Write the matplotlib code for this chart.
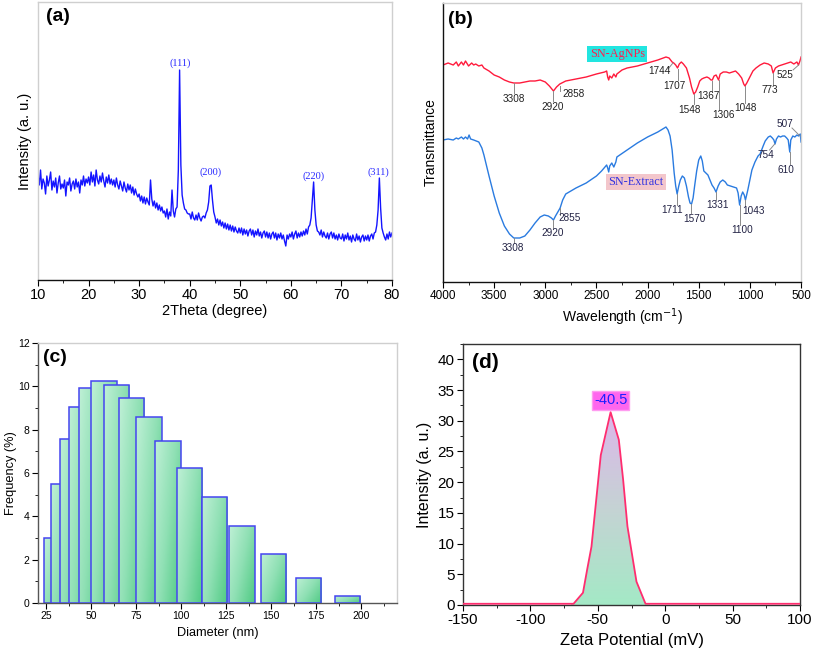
import numpy as np
import matplotlib
matplotlib.use("Agg")
import matplotlib.pyplot as plt
from matplotlib.colors import LinearSegmentedColormap
from matplotlib.ticker import MultipleLocator, NullLocator

plt.rcParams["font.family"] = "Liberation Sans"
plt.rcParams["axes.unicode_minus"] = False

# ---- (a) XRD pattern (step 0.25 deg) ----
xrd_2theta = np.arange(10, 80.01, 0.25)
xrd_intensity = [
    105, 95, 110, 91, 101, 97, 86, 104, 94, 100, 108, 90, 99, 93, 102, 87, 97, 104, 91, 96,
    92, 100, 84, 98, 95, 102, 89, 96, 99, 91, 101, 93, 98, 87, 100, 95, 104, 94, 101, 97,
    103, 95, 108, 98, 105, 94, 110, 100, 96, 104, 98, 107, 99, 93, 103, 97, 105, 96, 101, 95,
    100, 93, 102, 95, 91, 99, 94, 89, 98, 92, 88, 96, 90, 95, 87, 93, 85, 91, 86, 83,
    86, 79, 84, 77, 83, 76, 82, 78, 75, 100, 81, 74, 79, 72, 77, 70, 75, 69, 73, 67,
    69, 63, 71, 61, 68, 64, 90, 69, 63, 71, 73, 110, 210, 115, 85, 77, 71, 70, 67, 66,
    66, 61, 68, 62, 60, 65, 60, 67, 62, 59, 63, 64, 62, 67, 70, 78, 94, 95, 80, 68,
    63, 57, 61, 55, 60, 54, 58, 52, 57, 51, 56, 50, 55, 49, 54, 48, 53, 49, 47, 52,
    47, 52, 45, 51, 46, 50, 44, 49, 51, 45, 50, 43, 49, 45, 51, 44, 48, 42, 47, 49,
    43, 48, 42, 47, 41, 46, 48, 42, 47, 40, 46, 42, 47, 41, 45, 39, 34, 45, 41, 46,
    43, 48, 41, 46, 49, 42, 47, 43, 48, 44, 49, 45, 51, 46, 53, 55, 62, 80, 98, 70,
    55, 49, 48, 45, 50, 43, 48, 44, 42, 47, 41, 46, 48, 42, 47, 41, 45, 40, 46, 42,
    41, 46, 39, 45, 41, 47, 40, 44, 38, 45, 41, 39, 46, 40, 44, 38, 43, 45, 39, 44,
    40, 45, 39, 44, 46, 41, 47, 48, 55, 70, 102, 72, 52, 47, 43, 40, 46, 41, 48, 43,
    47,
]
peak_pos = [38.1, 44.2, 64.4, 77.4]
peak_label_y = [217, 108, 104, 108]
peak_labels = ["(111)", "(200)", "(220)", "(311)"]

# ---- (b) FTIR spectra ----
agnp_wn = [4000, 3950, 3900, 3870, 3850, 3820, 3800, 3780, 3750, 3720, 3700, 3680, 3650,
           3620, 3600, 3550, 3500, 3450, 3400, 3350, 3308, 3250, 3200, 3150, 3100, 3050,
           3000, 2960, 2920, 2890, 2858, 2800, 2700, 2600, 2500, 2420, 2400, 2390, 2380,
           2370, 2350, 2330, 2310, 2300, 2250, 2200, 2100, 2000, 1900, 1820, 1790, 1760,
           1744, 1725, 1707, 1690, 1670, 1650, 1620, 1590, 1570, 1548, 1530, 1510, 1490,
           1470, 1450, 1420, 1400, 1380, 1367, 1350, 1330, 1306, 1290, 1260, 1230, 1200,
           1170, 1140, 1110, 1080, 1060, 1048, 1030, 1000, 970, 940, 900, 860, 820, 790,
           773, 750, 720, 690, 660, 630, 600, 570, 540, 525, 510, 500]
agnp_t = [217, 219, 217, 220, 216, 220, 217, 221, 216, 219, 217, 218, 216,
          217, 214, 211, 207, 205, 202, 200, 199, 199, 200, 201, 201, 202,
          200, 196, 191, 195, 198, 201, 203, 205, 208, 210, 211, 205, 202,
          206, 204, 208, 205, 208, 212, 214, 216, 219, 222, 225, 224, 220,
          219, 217, 214, 218, 220, 218, 214, 204, 195, 188, 190, 195, 201,
          203, 204, 205, 204, 202, 202, 206, 207, 202, 208, 210, 210, 209,
          210, 211, 208, 204, 198, 196, 199, 205, 211, 214, 217, 219, 218, 216,
          209, 214, 216, 217, 218, 219, 220, 218, 220, 217, 221, 225]

extract_wn = [4000, 3950, 3900, 3870, 3850, 3820, 3800, 3780, 3760, 3745, 3730, 3700, 3650,
              3620, 3600, 3550, 3500, 3450, 3400, 3350, 3308, 3250, 3200, 3150, 3100, 3050,
              3010, 2970, 2940, 2920, 2900, 2855, 2830, 2800, 2700, 2600, 2500, 2450, 2400,
              2390, 2380, 2370, 2350, 2330, 2310, 2300, 2200, 2100, 2000, 1900, 1820, 1800,
              1780, 1760, 1740, 1725, 1711, 1695, 1680, 1660, 1640, 1620, 1600, 1585, 1570,
              1555, 1540, 1520, 1500, 1480, 1465, 1450, 1430, 1410, 1390, 1370, 1350, 1331,
              1310, 1290, 1265, 1240, 1220, 1190, 1160, 1130, 1115, 1100, 1085, 1070, 1055,
              1043, 1020, 1000, 980, 950, 920, 900, 870, 850, 820, 800, 780, 765, 754, 740,
              720, 700, 680, 660, 640, 625, 610, 600, 580, 560, 540, 525, 507, 500]
extract_t = [142, 143, 142, 144, 143, 145, 143, 145, 143, 147, 143, 142, 140,
             134, 127, 106, 86, 69, 56, 48, 44, 44, 46, 52, 59, 65,
             67, 66, 64, 62, 66, 74, 82, 88, 94, 99, 106, 111, 117,
             114, 110, 116, 119, 115, 120, 125, 132, 139, 145, 150, 155, 152,
             146, 132, 109, 96, 88, 96, 102, 106, 104, 96, 85, 79, 78,
             84, 96, 111, 122, 126, 121, 111, 109, 107, 102, 97, 94, 90,
             96, 100, 102, 100, 97, 96, 95, 94, 89, 77, 86, 90, 87,
             82, 92, 102, 112, 120, 126, 128, 136, 141, 145, 146, 144, 142, 138, 143,
             146, 145, 146, 146, 144, 142, 130, 142, 146, 145, 147, 146, 148, 140]

# annotations: label, leader start, leader end, text position
agnp_marks = [
    ("3308", (3308, 199), (3308, 189), (3305, 183)),
    ("2920", (2920, 191), (2920, 181), (2923, 175)),
    ("2858", (2858, 196), (2858, 191), (2727, 188)),
    ("1744", (1752, 219), (1800, 213), (1880, 211)),
    ("1707", (1707, 213), (1707, 202), (1737, 196)),
    ("1548", (1548, 188), (1548, 178), (1593, 172)),
    ("1367", (1367, 201), (1367, 190), (1404, 186)),
    ("1306", (1306, 202), (1306, 172), (1257, 167)),
    ("1048", (1048, 196), (1048, 179), (1039, 174)),
    ("773", (773, 209), (773, 197), (807, 192)),
    ("525", (523, 217), (578, 212), (653, 207)),
]
extract_marks = [
    ("3308", (3308, 44), (3308, 39), (3314, 34)),
    ("2920", (2920, 62), (2920, 54), (2923, 49)),
    ("2855", (2855, 74), (2855, 67), (2759, 64)),
    ("1711", (1711, 88), (1711, 77), (1763, 72)),
    ("1570", (1580, 78), (1580, 69), (1545, 63)),
    ("1331", (1331, 90), (1331, 82), (1313, 77)),
    ("1100", (1100, 77), (1100, 57), (1071, 52)),
    ("1043", (1043, 82), (1043, 76), (964, 71)),
    ("754", (757, 138), (807, 132), (843, 127)),
    ("610", (610, 130), (610, 118), (647, 112)),
    ("507", (510, 146), (588, 154), (653, 158)),
]

# ---- (c) size distribution ----
diameter_bin_left = [23.7, 27.8, 32.4, 37.6, 43.2, 50.1, 57.1, 65.5,
                     75.1, 85.7, 97.8, 111.4, 126.8, 144.3, 163.8, 185.7]
frequency_pct = [3.02, 5.48, 7.57, 9.05, 9.93, 10.23, 10.04, 9.47,
                 8.59, 7.50, 6.25, 4.91, 3.56, 2.28, 1.16, 0.34]
bin_width = 14.0

# ---- (d) zeta potential ----
zeta_mv = [-150, -68, -61, -57.7, -54.7, -47.8, -40.5, -34.4, -31.2, -28, -21.3, -14.6, 100]
zeta_intensity = [0.2, 0.2, 2.0, 6.0, 9.5, 24.4, 31.4, 26.9, 20.4, 12.8, 3.8, 0.2, 0.2]
zeta_peak = -40.5

W, H = 813, 654
fig = plt.figure(figsize=(W / 100, H / 100), dpi=100)


def px_axes(left, top, right, bottom):
    return fig.add_axes([left / W, 1 - bottom / H, (right - left) / W, (bottom - top) / H])


def style_spines(ax, dark, light, dark_col="#111111", light_col="#cfcfcf"):
    for s in dark:
        ax.spines[s].set_color(dark_col)
        ax.spines[s].set_linewidth(1.0)
    for s in light:
        ax.spines[s].set_color(light_col)
        ax.spines[s].set_linewidth(1.0)


# ---------- (a) ----------
ax = px_axes(38, 2, 392, 280)
ax.plot(xrd_2theta, xrd_intensity, color="#1414ff", lw=1.0)
for x, y, t in zip(peak_pos, peak_label_y, peak_labels):
    ax.text(x, y, t, ha="center", va="center", color="#2a2aff",
            family="Liberation Serif", fontsize=7.5)
ax.set_xlim(10, 80)
ax.set_ylim(0, 278)
ax.xaxis.set_major_locator(MultipleLocator(10))
ax.xaxis.set_minor_locator(MultipleLocator(5))
ax.yaxis.set_major_locator(NullLocator())
ax.tick_params(axis="x", which="major", direction="out", length=4, labelsize=10.5, pad=2)
ax.tick_params(axis="x", which="minor", direction="out", length=2.5)
style_spines(ax, ["bottom"], ["left", "top", "right"])
ax.set_xlabel("2Theta (degree)", fontsize=10.5, labelpad=1)
ax.set_ylabel("Intensity (a. u.)", fontsize=10.5, labelpad=4)
ax.text((46 - 38) / 354, 1 - (17 - 2) / 278, "(a)", transform=ax.transAxes,
        fontsize=14, fontweight="bold", va="center")

# ---------- (b) ----------
ax = px_axes(443, 3, 801, 282)
ax.plot(agnp_wn, agnp_t, color="#ff1a3c", lw=1.0)
ax.plot(extract_wn, extract_t, color="#2a7be0", lw=1.0)
for marks, tcol in ((agnp_marks, "#222222"), (extract_marks, "#222244")):
    for label, p0, p1, pt in marks:
        ax.plot([p0[0], p1[0]], [p0[1], p1[1]], color="#8a8a8a", lw=0.7)
        ax.text(pt[0], pt[1], label, ha="center", va="center", fontsize=7.2, color=tcol)
ax.text(2296, 228, "SN-AgNPs", ha="center", va="center", color="#ff1f4f",
        family="Liberation Serif", fontsize=8.8,
        bbox=dict(boxstyle="square,pad=0.2", fc="#22e5e0", ec="none"))
ax.text(2116, 100, "SN-Extract", ha="center", va="center", color="#3434e0",
        family="Liberation Serif", fontsize=8.8,
        bbox=dict(boxstyle="square,pad=0.2", fc="#f3c6cb", ec="none"))
ax.set_xlim(4000, 500)
ax.set_ylim(0, 279)
ax.xaxis.set_major_locator(MultipleLocator(500))
ax.xaxis.set_minor_locator(MultipleLocator(250))
ax.yaxis.set_major_locator(NullLocator())
ax.tick_params(axis="x", which="major", direction="out", length=4, labelsize=8.5, pad=2)
ax.tick_params(axis="x", which="minor", direction="out", length=2.5)
style_spines(ax, ["bottom", "left"], ["top", "right"])
ax.set_xlabel("Wavelength (cm$^{-1}$)", fontsize=10, labelpad=3)
ax.set_ylabel("Transmittance", fontsize=10, labelpad=4)
ax.text((448 - 443) / 358, 1 - (20 - 3) / 279, "(b)", transform=ax.transAxes,
        fontsize=14, fontweight="bold", va="center")

# ---------- (c) ----------
ax = px_axes(38, 343, 397, 603)
bars = ax.bar(diameter_bin_left, frequency_pct, width=bin_width, align="edge",
              facecolor="none", edgecolor="#4545f0", linewidth=1.1)
bar_cmap = LinearSegmentedColormap.from_list("bar", ["#bff0d6", "#8fe0b4", "#4fca83"])
gx, gy = np.meshgrid(np.linspace(0, 1, 40), np.linspace(0, 1, 80))
grad = 0.6 * gx + 0.4 * gy
for i, (b, left, h) in enumerate(zip(bars, diameter_bin_left, frequency_pct)):
    im = ax.imshow(grad, cmap=bar_cmap, extent=[left, left + bin_width, 0, h],
                   origin="upper", aspect="auto", zorder=2 * i + 1, interpolation="bilinear")
    im.set_clip_path(b)
    b.set_zorder(2 * i + 2)
ax.set_xlim(20.4, 220)
ax.set_ylim(0, 12)
ax.xaxis.set_major_locator(MultipleLocator(25))
ax.xaxis.set_minor_locator(MultipleLocator(12.5))
ax.yaxis.set_major_locator(MultipleLocator(2))
ax.yaxis.set_minor_locator(MultipleLocator(1))
ax.tick_params(which="major", direction="out", length=4, labelsize=7.5, pad=2)
ax.tick_params(which="minor", direction="out", length=2)
style_spines(ax, ["bottom", "left"], ["top", "right"], dark_col="#555555")
ax.set_xlabel("Diameter (nm)", fontsize=9.2, labelpad=4)
ax.set_ylabel("Frequency (%)", fontsize=9.2, labelpad=1)
ax.text((43 - 38) / 359, 1 - (358 - 343) / 260, "(c)", transform=ax.transAxes,
        fontsize=14, fontweight="bold", va="center")

# ---------- (d) ----------
ax = px_axes(463, 344, 800, 605)
poly = ax.fill_between(zeta_mv, zeta_intensity, 0, facecolor="none", edgecolor="none")
fill_cmap = LinearSegmentedColormap.from_list("fill", ["#a4e9c6", "#c5d3d4", "#dcb7ea"])
vgrad = np.linspace(0, 1, 100).reshape(-1, 1)
im = ax.imshow(vgrad, cmap=fill_cmap, origin="lower", aspect="auto",
               extent=[-70, -12, 0, max(zeta_intensity)], zorder=1)
im.set_clip_path(poly.get_paths()[0], ax.transData)
ax.plot(zeta_mv, zeta_intensity, color="#ff2d6f", lw=1.3, zorder=3)
ax.text(zeta_peak, 33.3, f"{zeta_peak}", ha="center", va="center", color="#1f1fff",
        fontsize=10.5,
        bbox=dict(boxstyle="square,pad=0.15", fc="#ff66ee", ec="#ff9cf0"))
ax.set_xlim(-150, 100)
ax.set_ylim(0, 42.5)
ax.xaxis.set_major_locator(MultipleLocator(50))
ax.xaxis.set_minor_locator(MultipleLocator(25))
ax.yaxis.set_major_locator(MultipleLocator(5))
ax.yaxis.set_minor_locator(MultipleLocator(2.5))
ax.tick_params(which="major", direction="out", length=4, labelsize=11, pad=2)
ax.tick_params(which="minor", direction="out", length=2)
style_spines(ax, ["bottom", "left", "top", "right"], [], dark_col="#333333")
ax.set_xlabel("Zeta Potential (mV)", fontsize=12, labelpad=4)
ax.set_ylabel("Intensity (a. u.)", fontsize=11.5, labelpad=4)
ax.text((472 - 463) / 337, 1 - (362 - 344) / 261, "(d)", transform=ax.transAxes,
        fontsize=15, fontweight="bold", va="center")

fig.savefig("out.png", dpi=100)
